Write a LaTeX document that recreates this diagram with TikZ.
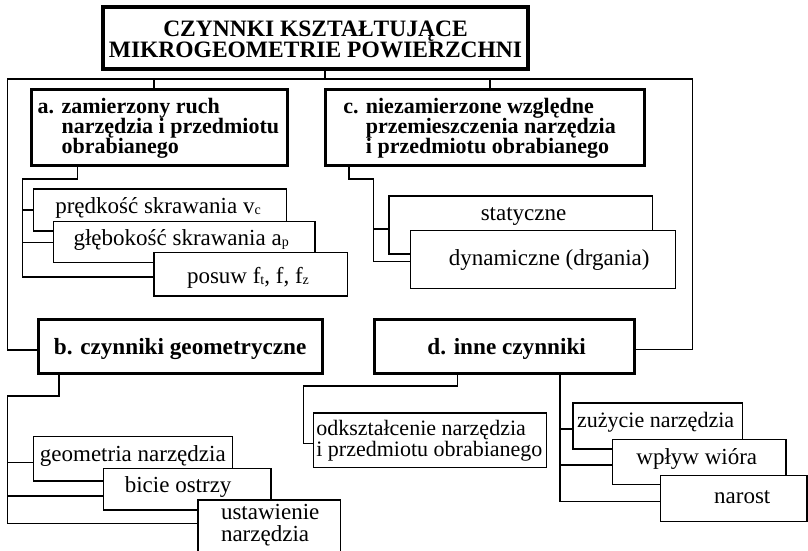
\documentclass[tikz,border=0pt]{standalone}
\usepackage{fontspec}
\setmainfont{Liberation Serif}

% small lowered index letters (v_c, a_p, f_t ...)
\newcommand\idx[1]{\raisebox{-1pt}{\fontsize{14}{14}\selectfont #1}}
% shift a one-line text sideways inside a centred box
\newcommand\nudge[2]{\kern#1pt\hbox{#2}\kern-#1pt}
% stacked lines, left aligned / centred, first baseline is the box baseline
\newcommand\lrows[1]{\vtop{\lineskiplimit=-\maxdimen\halign{##\hfil\cr#1\crcr}}}
\newcommand\crows[1]{\vtop{\lineskiplimit=-\maxdimen\halign{\hfil##\hfil\cr#1\crcr}}}
% left aligned block of given width with a left indent
\newcommand\leftin[3]{\makebox[#1pt][l]{\kern#2pt#3}}

\tikzset{
  % frame={x}{y}{width}{height}{top to baseline}{baseline to bottom}
  frame/.style n args={6}{anchor=north west, at={(#1,#2)},
    minimum width=#3pt, minimum height=#4pt,
    text height=#5pt, text depth=#6pt,
    inner sep=0pt, outer sep=0pt, draw=black, fill=white},
  thinbox/.style={line width=1.4pt, font=\fontsize{23}{20}\selectfont},
  mainbox/.style={line width=3pt, font=\fontsize{23.2}{20}\selectfont\bfseries},
  headbox/.style={line width=3pt, font=\fontsize{22}{19.8}\selectfont\bfseries},
  titlebox/.style={line width=3.5pt, font=\fontsize{23.5}{21.6}\selectfont\bfseries},
  wire/.style={line width=1.4pt, draw=black},
}

\begin{document}
\begin{tikzpicture}[x=1pt, y=-1pt]
\useasboundingbox (0,0) rectangle (808,550);
\clip (0,0) rectangle (808,550);

% ---------- boxes ----------
\node[frame={103}{7}{425}{62}{29}{33}, titlebox] (title)
  {\crows{CZYNNKI KSZTAŁTUJĄCE\cr MIKROGEOMETRIE POWIERZCHNI}};

\node[frame={31}{89.3}{256}{76.4}{24.2}{52.2}, headbox] (a)
  {\leftin{256}{6.7}{\lrows{a. zamierzony ruch\cr
     \hphantom{a. }narzędzia i przedmiotu\cr
     \hphantom{a. }obrabianego}}};
\node[frame={325}{89.3}{319.3}{76.4}{24.2}{52.2}, headbox] (c)
  {\leftin{319.3}{18.3}{\lrows{c. niezamierzone względne\cr
     \hphantom{c. }przemieszczenia narzędzia\cr
     \hphantom{c. }i przedmiotu obrabianego}}};

\node[frame={38.3}{319.5}{283.7}{54}{34.5}{19.5}, mainbox] (b)
  {b. czynniki geometryczne};
\node[frame={374}{319.5}{260.3}{54}{34.5}{19.5}, mainbox] (d)
  {\nudge{2.5}{d. inne czynniki}};

% motion parameters
\node[frame={33.3}{189}{253.4}{42}{24.5}{17.5}, thinbox] (pred)
  {\nudge{-2}{prędkość skrawania v\idx{c}}};
\node[frame={53.3}{221.7}{261.7}{41}{23.3}{17.7}, thinbox] (gleb)
  {\nudge{-3}{głębokość skrawania a\idx{p}}};
\node[frame={154}{252.3}{193.3}{43.7}{30.7}{13}, thinbox] (posuw)
  {\nudge{-2.7}{posuw f\idx{t}, f, f\idx{z}}};

% relative displacements
\node[frame={389}{196}{263.7}{58}{24.7}{33.3}, thinbox] (stat)
  {\nudge{2.7}{statyczne}};
\node[frame={410.7}{230.7}{265}{57.6}{34.3}{23.3}, thinbox] (dyn)
  {\nudge{6}{dynamiczne (drgania)}};

% geometric factors
\node[frame={33.3}{436.7}{199}{44.3}{25}{19.3}, thinbox] (geo)
  {geometria narzędzia};
\node[frame={103.3}{468.3}{167.7}{41.7}{24.4}{17.3}, thinbox] (bicie)
  {\nudge{-9}{bicie ostrzy}};
\node[frame={198}{500}{142.7}{60}{19.6}{40.4}, thinbox,
      font=\fontsize{23}{21.6}\selectfont] (ust)
  {\leftin{142.7}{23}{\lrows{ustawienie\cr narzędzia}}};

% other factors
\node[frame={313.7}{413.1}{233}{54.6}{22}{32.6}, thinbox,
      font=\fontsize{22}{21}\selectfont] (odk)
  {\leftin{233}{2.7}{\lrows{odkształcenie narzędzia\cr i przedmiotu obrabianego}}};
\node[frame={573}{402.8}{169.3}{46.3}{25.1}{21.2}, thinbox,
      font=\fontsize{22}{20}\selectfont] (zuz)
  {\nudge{-2}{zużycie narzędzia}};
\node[frame={612.7}{439.5}{173.1}{44.8}{24.8}{20}, thinbox] (wpl)
  {\nudge{-2.5}{wpływ wióra}};
\node[frame={660.5}{475.2}{146.5}{46}{28.5}{17.5}, thinbox] (narost)
  {\nudge{8.5}{narost}};

% ---------- connectors ----------
\coordinate (hub)  at (325,79);
\coordinate (busL) at (7.3,79);
\coordinate (busR) at (692.5,79);
\coordinate (aTop) at (154,79);
\coordinate (cTop) at (490,79);

\draw[wire] (title.south -| hub) -- (hub);
\draw[wire] ([yshift=-3.5pt]b.west) -| (busL) -- (busR) |- ([yshift=-3pt]d.east);
\draw[wire] (aTop) -- (a.north -| aTop);
\draw[wire] (cTop) -- (c.north -| cTop);

% under a
\coordinate (aDrop)  at (77.3,179);
\coordinate (aSpine) at (22.3,179);
\draw[wire] (a.south -| aDrop) -- (aDrop) -- (aSpine) |- ([yshift=-2.8pt]posuw.west);
\draw[wire] (pred.west) -| (aSpine);
\draw[wire] (gleb.west) -| (aSpine);

% under c
\coordinate (cDrop)  at (349,179);
\coordinate (cSpine) at (373.3,179);
\draw[wire] (c.south -| cDrop) -- (cDrop) -- (cSpine) |- ([yshift=-2.2pt]dyn.west);
\draw[wire] ([yshift=-4pt]stat.west) -| (cSpine);

% under b
\coordinate (bDrop)  at (59,396);
\coordinate (bSpine) at (7.3,396);
\draw[wire] (b.south -| bDrop) -- (bDrop) -- (bSpine) |- ([yshift=6.7pt]ust.west);
\draw[wire] ([yshift=-3.8pt]geo.west) -| (bSpine);
\draw[wire] ([yshift=-6.8pt]bicie.west) -| (bSpine);

% under d
\coordinate (dDrop)  at (457.5,385.8);
\coordinate (dLeft)  at (303.6,385.8);
\coordinate (dSpine) at (560,0);
\draw[wire] (d.south -| dDrop) -- (dDrop) -- (dLeft) |- ([yshift=-3pt]odk.west);
\draw[wire] (d.south -| dSpine) |- ([yshift=-3pt]narost.west);
\draw[wire] ([yshift=-3pt]zuz.west) -| (d.south -| dSpine);
\draw[wire] ([yshift=-3pt]wpl.west) -| (d.south -| dSpine);
\end{tikzpicture}
\end{document}
